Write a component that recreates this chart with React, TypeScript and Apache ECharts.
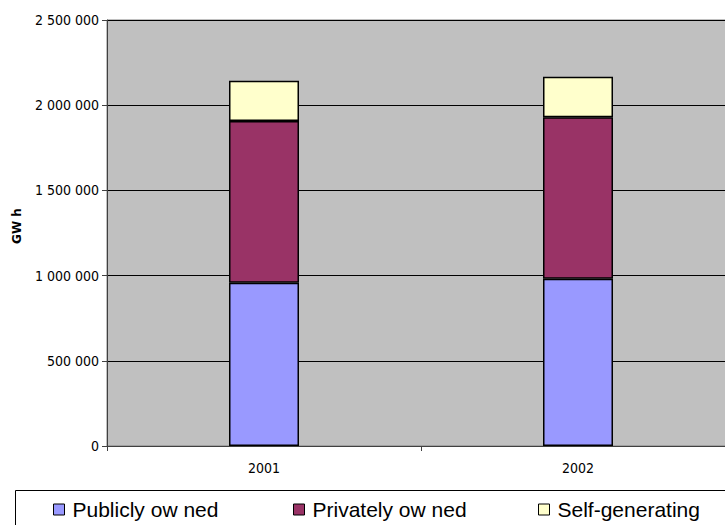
import React, { useEffect, useRef } from "react";
import * as echarts from "echarts";

// Electricity generation by ownership, GWh
const years = ["2001", "2002"];
const publiclyOwned = [958000, 982000];
const privatelyOwned = [949000, 947000];
const selfGenerating = [237000, 238000];
const seriesNames = ["Publicly ow ned", "Privately ow ned", "Self-generating"];
const seriesColors = ["#9999FF", "#993366", "#FFFFCC"];

const fmt = (v: number) =>
  String(v).replace(/\B(?=(\d{3})+(?!\d))/g, " ");

export default function App() {
  const ref = useRef<HTMLDivElement>(null);

  useEffect(() => {
    if (!ref.current) return;
    const chart = echarts.init(ref.current, null, { renderer: "svg" });
    const values = [publiclyOwned, privatelyOwned, selfGenerating];
    const legendLeft = [53, 293, 538];

    chart.setOption({
      animation: false,
      // the canvas is wider than the visible frame, so the plot runs off its right edge
      grid: {
        left: 107,
        top: 20,
        right: 10,
        bottom: 79,
        show: true,
        backgroundColor: "#C0C0C0",
        borderColor: "#808080",
        borderWidth: 1,
      },
      xAxis: {
        type: "category",
        data: years,
        axisLine: { lineStyle: { color: "#404040", width: 1 } },
        axisTick: { show: true, length: 5, lineStyle: { color: "#404040" } },
        axisLabel: {
          margin: 15,
          fontFamily: "DejaVu Sans Condensed",
          fontSize: 14,
          color: "#000",
        },
      },
      yAxis: {
        type: "value",
        min: 0,
        max: 2500000,
        interval: 500000,
        name: "GW h",
        nameLocation: "middle",
        nameGap: 84,
        nameRotate: 90,
        nameTextStyle: {
          fontFamily: "DejaVu Sans",
          fontWeight: "bold",
          fontSize: 12,
          color: "#000",
          padding: [0, 0, 0, 14],
        },
        axisLine: { show: true, lineStyle: { color: "#404040", width: 1 } },
        axisTick: { show: true, length: 5, lineStyle: { color: "#404040" } },
        splitLine: { show: true, lineStyle: { color: "#000", width: 1 } },
        axisLabel: {
          margin: 8,
          formatter: (v: number) => fmt(v),
          fontFamily: "DejaVu Sans Condensed",
          fontSize: 14,
          color: "#000",
        },
      },
      legend: seriesNames.map((name, i) => ({
        data: [name],
        left: legendLeft[i],
        top: 499,
        padding: 0,
        itemWidth: 11,
        itemHeight: 11,
        itemGap: 0,
        icon: "rect",
        selectedMode: false,
        itemStyle: { borderColor: "#000", borderWidth: 1 },
        textStyle: {
          fontFamily: "Liberation Sans",
          fontSize: 21,
          color: "#000",
          padding: [0, 0, 0, 3],
        },
      })),
      graphic: [
        {
          type: "rect",
          z: -1,
          shape: { x: 15.5, y: 490.5, width: 740, height: 60 },
          style: { fill: "#fff", stroke: "#000", lineWidth: 1 },
        },
      ],
      series: values.map((data, i) => ({
        name: seriesNames[i],
        type: "bar",
        stack: "total",
        barWidth: 70,
        data,
        itemStyle: {
          color: seriesColors[i],
          borderColor: "#000",
          borderWidth: 1.5,
        },
      })),
    });

    return () => chart.dispose();
  }, []);

  return (
    <div
      style={{
        position: "absolute",
        left: 0,
        top: 0,
        width: 725,
        height: 525,
        overflow: "hidden",
      }}
    >
      <div ref={ref} style={{ width: 745, height: 525 }} />
    </div>
  );
}
